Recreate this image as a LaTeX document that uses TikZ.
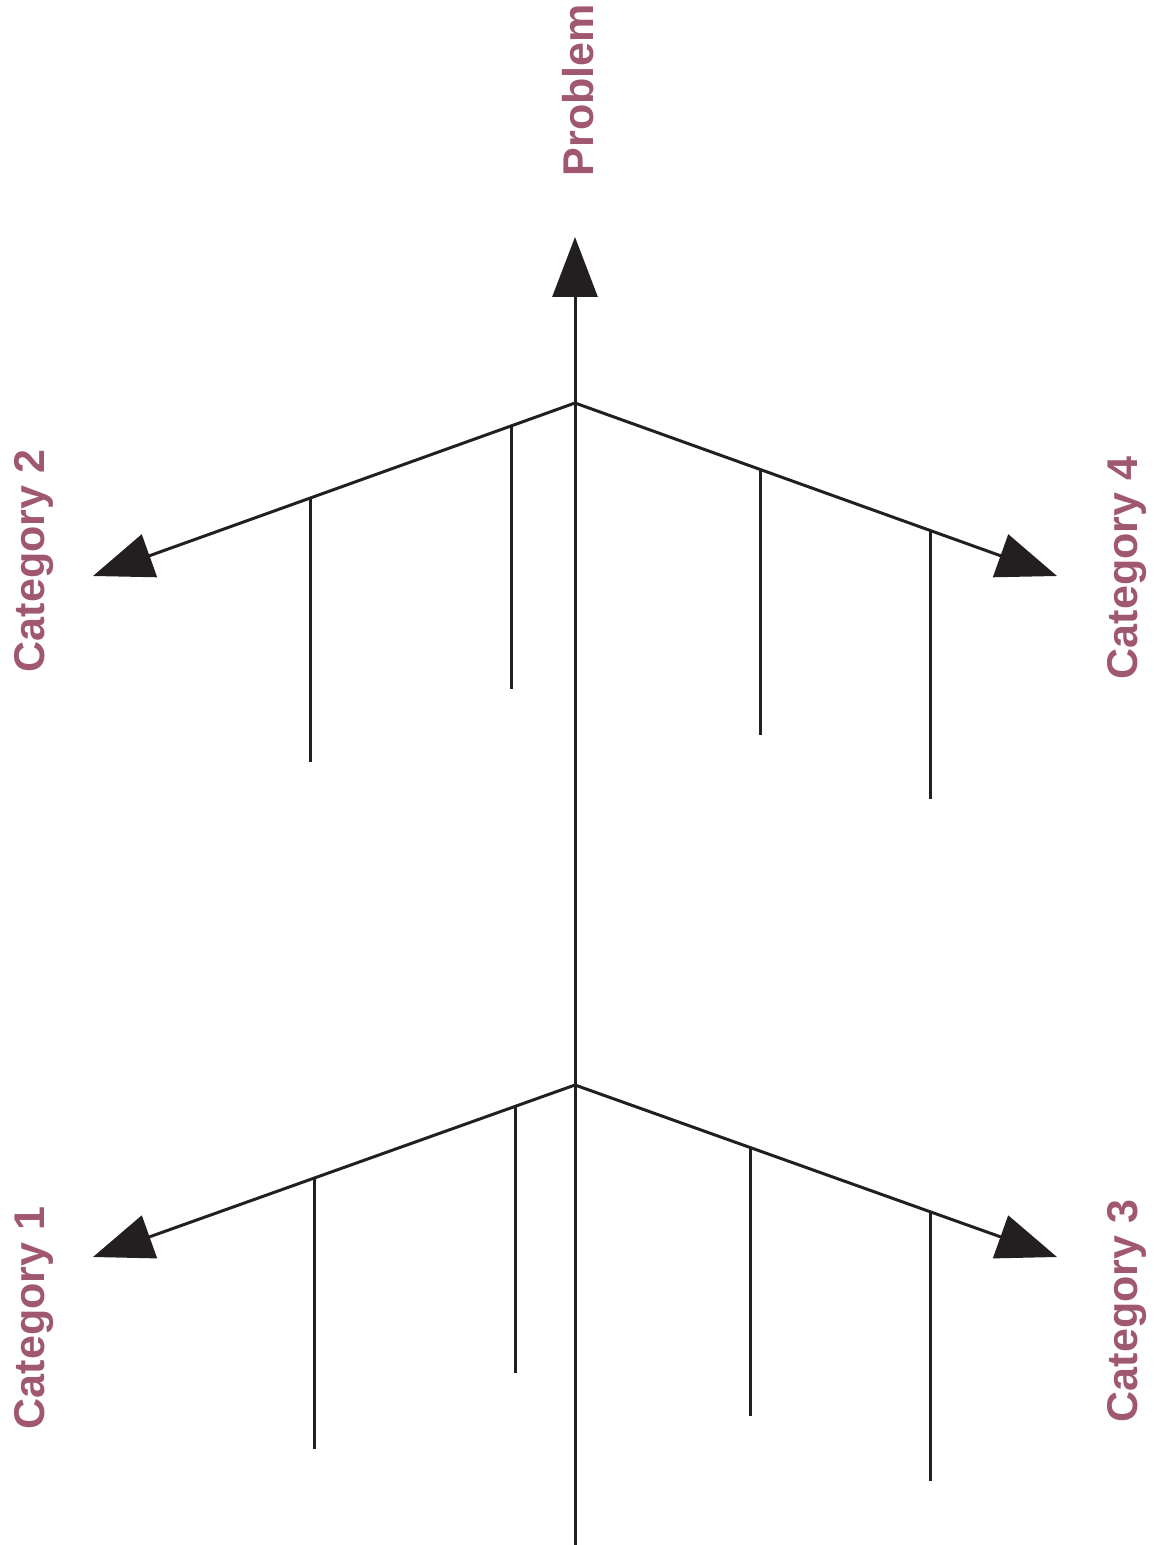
\documentclass[tikz,border=0pt]{standalone}
\usepackage{fontspec}
\setmainfont{Liberation Sans}
\usetikzlibrary{arrows.meta, calc}

\definecolor{labelrose}{RGB}{160,88,112}
\definecolor{boneink}{RGB}{35,31,32}

\begin{document}
\begin{tikzpicture}[x=0.02cm,y=-0.02cm,
 bone/.style={draw=boneink,line width=1.7pt},
 head/.style={-{Triangle[length=1.2cm,width=0.9cm]}},
 cat label/.style={text=labelrose,font=\bfseries\fontsize{24.5}{30}\selectfont,
   rotate=90,anchor=base}]

  \useasboundingbox (0,0) rectangle (1153,1545);

  % spine and the two joints
  \coordinate (tail) at (575,1545);
  \coordinate (head) at (575,237);
  \coordinate (J1) at (575,403);
  \coordinate (J2) at (575,1085);

  % ends of the four bones
  \coordinate (T2) at (93,576);
  \coordinate (T4) at (1057,576);
  \coordinate (T1) at (93,1257);
  \coordinate (T3) at (1057,1257);

  \draw[bone,head] (tail) -- (head);
  \foreach \j/\e in {J1/T2, J1/T4, J2/T1, J2/T3} {
   \draw[bone,head] (\j) -- (\e);}

  % ribs hanging from the bones
  \foreach \j/\e/\t/\l in {J1/T2/0.131/263, J1/T2/0.548/264, J1/T4/0.384/266, J1/T4/0.737/268,
                           J2/T1/0.124/267, J2/T1/0.541/271, J2/T3/0.365/268, J2/T3/0.737/269} {
   \draw[bone] ($(\j)!\t!(\e)$) -- ++(0,\l);}

  \node[cat label] (problem) at (593,90) {Problem};
  \node[cat label] (cat2) at (44,561) {Category 2};
  \node[cat label] (cat1) at (44,1318) {Category 1};
  \node[cat label] (cat4) at (1137,568) {Category 4};
  \node[cat label] (cat3) at (1137,1311) {Category 3};

\end{tikzpicture}
\end{document}
